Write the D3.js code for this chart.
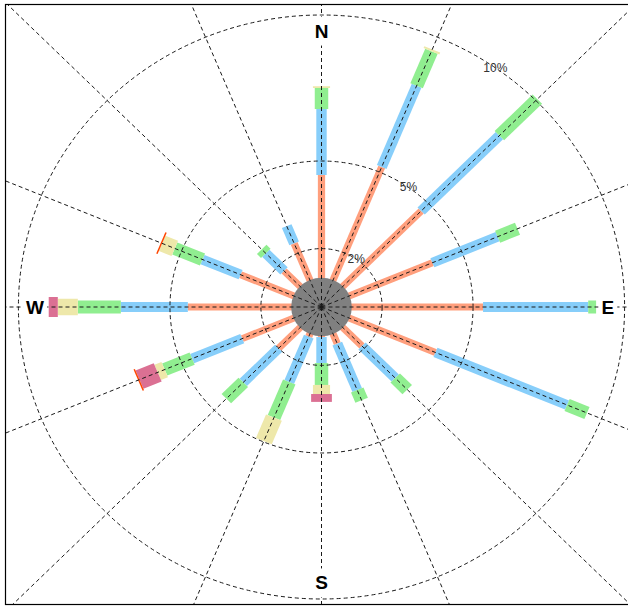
<!DOCTYPE html>
<html>
<head>
<meta charset="utf-8">
<script src="https://cdn.jsdelivr.net/npm/d3@7"></script>
<style>
  html, body { margin: 0; padding: 0; background: #fff; }
  svg { display: block; }
</style>
</head>
<body>
<svg id="chart" width="628" height="608"></svg>
<script>
// Wind directions, clockwise from north
const directions = ["N", "NNE", "NE", "ENE", "E", "ESE", "SE", "SSE",
                    "S", "SSW", "SW", "WSW", "W", "WNW", "NW", "NNW"];

// Frequency (%) of each speed bin per direction
const bin1 = [4.52, 5.19, 4.65, 3.96, 5.33, 4.07, 1.89, 1.36, 1.03, 1.10, 2.00, 2.83, 4.41, 2.89, 1.75, 2.36];
const bin2 = [2.26, 3.01, 3.65, 2.33, 3.47, 4.70, 1.55, 1.72, 0.89, 1.68, 1.65, 1.79, 2.21, 1.36, 0.85, 0.64];
const bin3 = [0.72, 1.28, 1.77, 0.71, 0.26, 0.71, 0.56, 0.38, 0.75, 1.32, 0.79, 0.98, 1.42, 0.99, 0.19, 0.00];
const bin4 = [0.06, 0.07, 0.00, 0.00, 0.00, 0.00, 0.00, 0.00, 0.31, 0.87, 0.00, 0.25, 0.66, 0.45, 0.00, 0.00];
const bin5 = [0.00, 0.00, 0.00, 0.00, 0.00, 0.00, 0.00, 0.00, 0.27, 0.00, 0.00, 0.65, 0.30, 0.00, 0.00, 0.00];
const bin6 = [0.00, 0.00, 0.00, 0.00, 0.00, 0.00, 0.00, 0.00, 0.00, 0.00, 0.00, 0.05, 0.00, 0.05, 0.00, 0.00];

const binKeys = ["bin1", "bin2", "bin3", "bin4", "bin5", "bin6"];
const binValues = [bin1, bin2, bin3, bin4, bin5, bin6];

// Calm share (%) and reference rings
const calm = 1.0;
const rings = [2, 5, 10];
const ringLabels = ["2%", "5%", "10%"];
const compassLabels = ["N", "E", "S", "W"];

// Styling per speed bin
const binColors = ["#FF9F7D", "#87CEFA", "#90EE90", "#EEE8AA", "#DB7093", "#FF4500"];
const binWidths = [7, 10, 13, 16.5, 20, 23];

const width = 628, height = 608;
const cx = 321.5, cy = 307;
const stretchX = 1.038;

const svg = d3.select("#chart");

const r = d3.scaleLinear().domain([0, 10]).range([0, 292]);
const bearing = d3.scalePoint().domain(directions).range([0, 337.5]);

// frame clip
svg.append("defs").append("clipPath").attr("id", "frameClip")
  .append("rect").attr("x", 5).attr("y", 4).attr("width", 640).attr("height", 600);

const plot = svg.append("g").attr("clip-path", "url(#frameClip)")
  .append("g").attr("transform", `translate(${cx},${cy}) scale(${stretchX},1)`);

// Build rows and stack the bins outward
const rows = directions.map((d, i) => {
  const row = { dir: d };
  binKeys.forEach((k, j) => { row[k] = binValues[j][i]; });
  return row;
});
const stacked = d3.stack().keys(binKeys)(rows);

// Bars: one rectangle per bin segment, rotated to its direction
stacked.forEach((series, k) => {
  plot.append("g").selectAll("rect")
    .data(series.filter(s => s[1] - s[0] > 0))
    .join("rect")
    .attr("transform", s => `rotate(${bearing(s.data.dir)})`)
    .attr("x", -binWidths[k] / 2)
    .attr("y", s => -r(s[1]))
    .attr("width", binWidths[k])
    .attr("height", s => r(s[1]) - r(s[0]))
    .attr("fill", binColors[k]);
});

// Calm disc
plot.append("circle").attr("r", r(calm)).attr("fill", "#808080");

// Reference rings
plot.append("g").selectAll("circle")
  .data(rings)
  .join("circle")
  .attr("r", d => r(d))
  .attr("fill", "none")
  .attr("stroke", "#1a1a1a")
  .attr("stroke-width", 1)
  .attr("stroke-dasharray", "4,3")
  .attr("vector-effect", "non-scaling-stroke");

// Radial spokes
plot.append("g").selectAll("line")
  .data(directions)
  .join("line")
  .attr("transform", d => `rotate(${bearing(d)})`)
  .attr("x1", 0).attr("y1", 0)
  .attr("x2", 0).attr("y2", -r(16))
  .attr("stroke", "#1a1a1a")
  .attr("stroke-width", 1)
  .attr("stroke-dasharray", "4,3")
  .attr("vector-effect", "non-scaling-stroke");

// Polar -> screen helper
const toXY = (deg, v) => {
  const a = deg * Math.PI / 180;
  return [cx + stretchX * r(v) * Math.sin(a), cy - r(v) * Math.cos(a)];
};

// Ring labels
svg.append("g").selectAll("text")
  .data(rings)
  .join("text")
  .attr("x", d => toXY(35, d)[0])
  .attr("y", d => toXY(35, d)[1])
  .attr("text-anchor", "middle")
  .attr("dominant-baseline", "central")
  .attr("font-family", "'Liberation Sans', Arial, sans-serif")
  .attr("font-size", 12)
  .attr("fill", "#333")
  .text((d, i) => ringLabels[i]);

// Compass labels with white backing
const compass = svg.append("g");
compassLabels.forEach(lab => {
  const [x, y] = toXY(bearing(lab), 9.45);
  const grp = compass.append("g");
  const t = grp.append("text")
    .attr("x", x).attr("y", y)
    .attr("text-anchor", "middle")
    .attr("dominant-baseline", "central")
    .attr("font-family", "'Liberation Sans', Arial, sans-serif")
    .attr("font-weight", "bold")
    .attr("font-size", 19)
    .attr("fill", "#000")
    .text(lab);
  const bb = t.node().getBBox();
  grp.insert("rect", "text")
    .attr("x", bb.x - 3).attr("y", bb.y - 4)
    .attr("width", bb.width + 6).attr("height", bb.height + 8)
    .attr("fill", "#fff");
});

// Frame
svg.append("rect")
  .attr("x", 5.5).attr("y", 4.5)
  .attr("width", 640).attr("height", 600)
  .attr("fill", "none")
  .attr("stroke", "#000")
  .attr("stroke-width", 1.2);
</script>
</body>
</html>
